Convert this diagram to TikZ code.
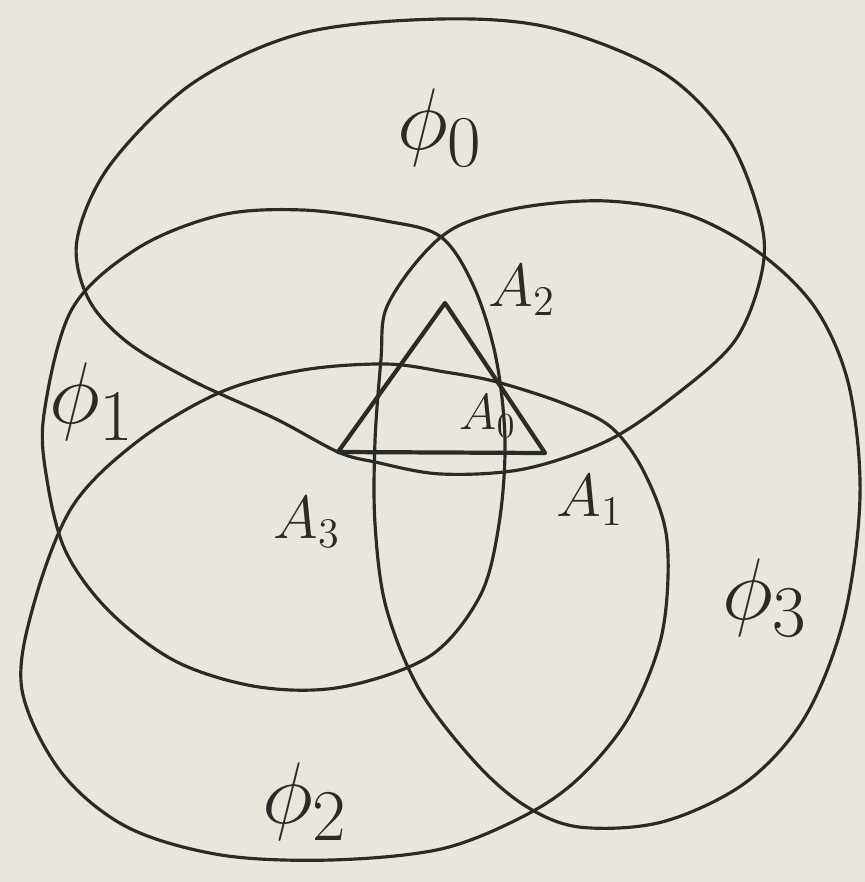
\documentclass[tikz,border=0pt]{standalone}
\usepackage{amsmath,amssymb}
\usepackage{xcolor}
\usepackage{tikz}
\usetikzlibrary{calc}
\definecolor{Paper}{HTML}{EAE6DD}
\definecolor{Ink}{HTML}{2A2A26}
\tikzset{
  region/.style={draw=Ink, line width=.9pt, line join=round},
  tri/.style={draw=Ink, line width=1.2pt, line join=round},
  philab/.style={text=Ink, font=\Huge, inner sep=0pt},
  vlab/.style={text=Ink, font=\LARGE, inner sep=0pt},
  vlabSmall/.style={vlab, font=\Large}
}

\begin{document}
\begin{tikzpicture}[x=0.01cm,y=-0.01cm]
  \fill[Paper] (0,0) rectangle (865,882);
  \useasboundingbox (0,0) rectangle (865,882);
  % the four regions
  \draw[region] plot[smooth cycle,tension=.55] coordinates {(77,240) (110,165) (193,83) (303,33) (441,19) (552,28) (662,72) (728,138) (761,221) (761,276) (734,342) (673,397) (607,441) (524,469) (441,474) (375,462) (338,452) (276,419) (193,381) (127,342) (88,298)};
  \draw[region] plot[smooth cycle,tension=.55] coordinates {(44,414) (72,309) (138,248) (221,215) (303,210) (386,221) (441,237) (474,287) (496,358) (505,441) (499,524) (480,596) (430,656) (342,687) (259,687) (177,662) (110,612) (66,552) (47,480)};
  \draw[region] plot[smooth cycle,tension=.55] coordinates {(22,690) (33,607) (72,507) (138,441) (221,392) (303,370) (386,364) (445,372) (497,382) (565,404) (612,428) (645,474) (667,540) (662,634) (629,717) (579,778) (524,816) (441,849) (331,860) (221,855) (127,827) (61,772)};
  \draw[region] plot[smooth cycle,tension=.55] coordinates {(381,359) (386,309) (419,259) (458,226) (524,207) (607,201) (689,215) (761,254) (816,309) (849,386) (860,496) (844,618) (805,717) (745,783) (662,822) (579,827) (524,805) (474,761) (419,689) (386,607) (375,524) (375,441)};
  % triangle
  \coordinate (a3) at (338,452);
  \coordinate (a2) at (445,303);
  \coordinate (a1) at (545,453);
  \coordinate (a0) at (495,378);
  \draw[tri] (a3) -- (a2) -- (a0) -- (a1) -- cycle;
  % labels
  \node[philab] (phi0) at (440,128) {$\phi_0$};
  \node[philab] (phi1) at (92,402) {$\phi_1$};
  \node[philab] (phi2) at (305,802) {$\phi_2$};
  \node[philab] (phi3) at (765,598) {$\phi_3$};
  \node[vlab] (lA2) at (522,290) {$A_2$};
  \node[vlabSmall] (lA0) at (488,416) {$A_0$};
  \node[vlab] (lA3) at (307,522) {$A_3$};
  \node[vlab] (lA1) at (590,500) {$A_1$};
\end{tikzpicture}
\end{document}
